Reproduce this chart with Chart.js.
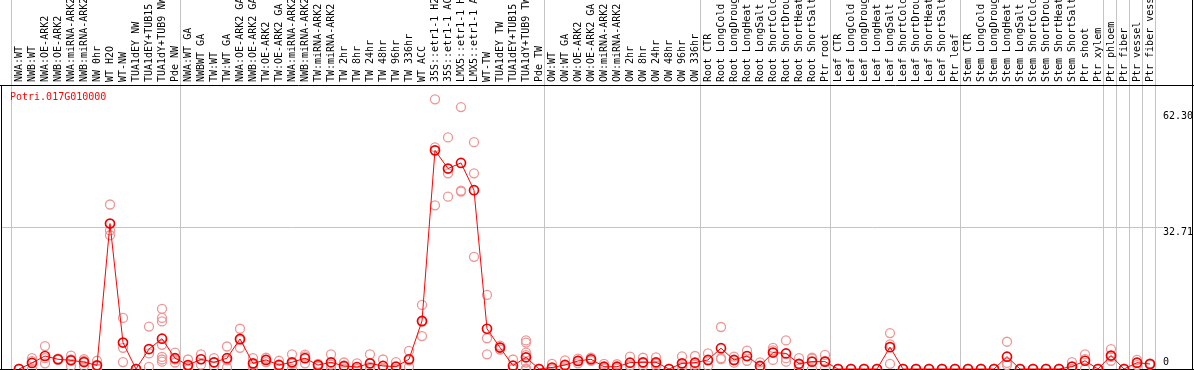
<!DOCTYPE html>
<html>
<head>
<meta charset="utf-8">
<script src="https://cdn.jsdelivr.net/npm/chart.js@4/dist/chart.umd.min.js"></script>
<style>
html,body{margin:0;padding:0;background:#fff;}
#wrap{position:relative;width:1194px;height:370px;overflow:hidden;}
#title{position:absolute;left:10px;top:91px;font:10px "DejaVu Sans Mono",monospace;color:#ff0000;line-height:12px;white-space:nowrap;}
</style>
</head>
<body>
<div id="wrap"><canvas id="c" width="1194" height="370"></canvas><div id="title"></div></div>
<script>
const geneId = 'Potri.017G010000';

const categories = [
  'NWA:WT','NWB:WT','NWA:OE-ARK2','NWB:OE-ARK2','NWA:miRNA-ARK2','NWB:miRNA-ARK2','NW 0hr','WT H2O','WT-NW',
  'TUA1dEY NW','TUA1dEY+TUB15 NW','TUA1dY+TUB9 NW','Pde NW',
  'NWA:WT GA','NWBWT GA','TW:WT','TW:WT GA','NWA:OE-ARK2 GA','NWB:OE-ARK2 GA','TW:OE-ARK2','TW:OE-ARK2 GA',
  'NWA:miRNA-ARK2 GA','NWB:miRNA-ARK2 GA','TW:miRNA-ARK2','TW:miRNA-ARK2 GA',
  'TW 2hr','TW 8hr','TW 24hr','TW 48hr','TW 96hr','TW 336hr','WT ACC',
  '35S::etr1-1 H2O','35S::etr1-1 ACC','LMX5::etr1-1 H2O','LMX5::etr1-1 ACC',
  'WT-TW','TUA1dEY TW','TUA1dEY+TUB15 TW','TUA1dY+TUB9 TW','Pde TW',
  'OW:WT','OW:WT GA','OW:OE-ARK2','OW:OE-ARK2 GA','OW:miRNA-ARK2','OW:miRNA-ARK2 GA',
  'OW 2hr','OW 8hr','OW 24hr','OW 48hr','OW 96hr','OW 336hr',
  'Root CTR','Root LongCold','Root LongDrought','Root LongHeat','Root LongSalt','Root ShortCold','Root ShortDrought','Root ShortHeat','Root ShortSalt','Ptr root',
  'Leaf CTR','Leaf LongCold','Leaf LongDrought','Leaf LongHeat','Leaf LongSalt','Leaf ShortCold','Leaf ShortDrought','Leaf ShortHeat','Leaf ShortSalt','Ptr leaf',
  'Stem CTR','Stem LongCold','Stem LongDrought','Stem LongHeat','Stem LongSalt','Stem ShortCold','Stem ShortDrought','Stem ShortHeat','Stem ShortSalt','Ptr shoot',
  'Ptr xylem','Ptr phloem','Ptr fiber','Ptr vessel','Ptr fiber vessel'
];

const meanValues = [
  0, 1.4, 3.0, 2.25, 2.0, 1.6, 0.85, 33.6, 6.1, 0, 4.6, 7.0, 2.5,
  0.9, 2.25, 1.55, 2.5, 6.95, 1.3, 2.1, 0.93, 1.55, 2.5, 0.9, 1.55, 0.7, 0.46, 1.3, 0.7, 0.55, 2.25, 11.1,
  50.5, 46.3, 47.6, 41.3, 9.3, 4.95, 0.77, 2.7, 0,
  0.35, 0.93, 1.86, 2.25, 0.53, 0.53, 1.46, 1.55, 1.55, 0, 1.3, 1.46,
  2.1, 4.8, 2.1, 3.0, 0.7, 3.8, 3.6, 1.2, 1.7, 1.7,
  0, 0, 0, 0, 5.05, 0, 0, 0, 0, 0,
  0, 0, 0, 2.85, 0, 0, 0, 0, 0.55, 1.9,
  0, 3.1, 0, 1.46, 1.16
];

const replicateValues = [
  [0,0,0],[2.5,1.8,0],[5.3,2.5,1.3],[2.4,2.2,2.1],[3.1,2.2,0.7],[2.3,1.9,0.7],[1.9,0.6,0.1],[38.0,32.0,30.9],[11.8,4.9,1.6],
  [0,0,0],[9.8,3.6,0.5],[13.9,11.8,11.0,5.6,2.8,2.2,1.7],[3.8,2.2,1.5],
  [2.2,0.5,0],[3.4,2.3,1.0],[2.5,1.5,0.6],[5.2,2.0,0.3],[9.3,6.7,4.9],[2.5,1.0,0.4],[2.6,2.1,1.6],[1.9,0.7,0.2],
  [3.4,1.2,0],[3.3,2.9,1.3],[1.2,1.0,0.5],[3.4,1.0,0.3],
  [1.5,0.5,0.1],[1.3,0.1,0],[3.4,0.5,0],[2.2,0,0],[1.6,0,0],[4.2,2.0,0.5],[14.8,10.9,7.6],
  [62.3,51.2,37.8],[53.5,45.2,39.8],[60.5,41.2,41.0],[52.4,45.2,25.9],
  [17.1,7.1,3.4],[5.4,5.0,4.5],[2.2,0.1,0],[6.6,6.1,3.8,3.2,1.5,0,0,0],[0,0,0],
  [1.2,0,0],[2.0,0.6,0.2],[2.4,1.9,1.3],[2.6,2.2,1.9],[1.2,0.3,0.1],[1.1,0.4,0.1],
  [2.85,0.8,0.7],[2.6,1.3,0.7],[2.7,1.2,0.7],[0,0,0],[2.9,0.6,0.4],[3.0,1.0,0.4],
  [3.6,2.0,0.7],[9.7,2.5,2.3],[2.85,2.0,1.45],[4.25,2.9,1.9],[1.55,0.5,0],[4.9,4.3,2.1],[6.6,2.5,1.7],[2.5,1.0,0.1],[2.6,2.4,0],[3.25,1.8,0.1],
  [0,0,0],[0,0,0],[0,0,0],[0,0,0],[8.3,5.7,1.2],[0,0,0],[0,0,0],[0,0,0],[0,0,0],[0,0,0],
  [0,0,0],[0,0,0],[0,0,0],[6.3,1.4,0.9],[0,0,0],[0,0,0],[0,0,0],[0,0,0],[1.6,0,0],[3.4,2.3,0],
  [0,0,0],[4.6,2.8,1.9],[0,0,0],[2.1,1.4,0.9],[1.3,1.2,1.0]
];

// first category index of each group (plus one past the end)
const groupStarts = [1, 14, 42, 54, 64, 74, 85, 86, 87, 88, 89];

const yTickValues = [62.30, 32.71, 0];
const yTickLabels = ['62.30', '32.71', '0'];
const yGridValues = [32.71];

// scale ranges
const X_MIN = -0.3846, X_MAX = 89.0;
const SEP_OFFSET = 0.59;
const Y_MAX = 65.6;
const YL_MIN = -1.773, YL_MAX = 70.15;

document.getElementById('title').textContent = geneId;

const meanData = meanValues.map((v, i) => ({x: i + 1, y: v}));
const repData = [];
replicateValues.forEach((arr, i) => arr.forEach(v => repData.push({x: i + 1, y: v})));

const monoFont = {family: 'DejaVu Sans Mono', size: 10};

function noPad(s) { s.paddingTop = 0; s.paddingBottom = 0; s.paddingLeft = 0; s.paddingRight = 0; }

const framePlugin = {
  id: 'frame',
  beforeDatasetsDraw(chart) {
    const {ctx, chartArea} = chart;
    ctx.save();
    ctx.strokeStyle = '#000';
    ctx.lineWidth = 1;
    ctx.beginPath();
    ctx.moveTo(0, chartArea.top + 0.5); ctx.lineTo(chart.width, chartArea.top + 0.5);
    ctx.moveTo(0, chartArea.bottom + 0.5); ctx.lineTo(chart.width, chartArea.bottom + 0.5);
    ctx.moveTo(1.5, chartArea.top); ctx.lineTo(1.5, chartArea.bottom + 1);
    ctx.moveTo(chart.width - 1.5, 0); ctx.lineTo(chart.width - 1.5, chartArea.bottom + 1);
    ctx.stroke();
    ctx.restore();
  }
};

new Chart(document.getElementById('c'), {
  type: 'line',
  data: {
    datasets: [
      {
        label: 'Mean', data: meanData, xAxisID: 'x', yAxisID: 'y',
        borderColor: '#ff0000', borderWidth: 1, tension: 0,
        pointRadius: 4.5, pointBorderWidth: 1.7, pointBorderColor: '#ee0000',
        pointBackgroundColor: 'rgba(0,0,0,0)', clip: 10
      },
      {
        label: 'Replicates', data: repData, xAxisID: 'x', yAxisID: 'y', showLine: false,
        pointRadius: 4.5, pointBorderWidth: 1.3, pointBorderColor: 'rgb(238,150,150)',
        pointBackgroundColor: 'rgba(0,0,0,0)', clip: 10
      }
    ]
  },
  options: {
    responsive: false, animation: false, devicePixelRatio: 1,
    layout: {autoPadding: false, padding: {left: 1, right: 1, top: 0, bottom: 1}},
    plugins: {legend: {display: false}, tooltip: {enabled: false}, title: {display: false}},
    scales: {
      x: {
        type: 'linear', position: 'top', min: X_MIN, max: X_MAX, bounds: 'data', weight: 2,
        grid: {display: false, drawTicks: false}, border: {display: false},
        ticks: {autoSkip: false, minRotation: 90, maxRotation: 90, padding: 3, labelOffset: 12, color: '#000', font: monoFont,
                callback: (v) => categories[v - 1] !== undefined ? categories[v - 1] : ''},
        afterBuildTicks: s => { s.ticks = categories.map((c, i) => ({value: i + 1})); },
        afterFit: s => { s.height = 85; noPad(s); }
      },
      xg: {
        type: 'linear', position: 'top', min: X_MIN, max: X_MAX, bounds: 'data', weight: 1,
        grid: {color: '#c4c4c4', lineWidth: 1, tickLength: 85, drawTicks: true}, border: {display: false},
        ticks: {display: false},
        afterBuildTicks: s => { s.ticks = groupStarts.map(g => ({value: g - SEP_OFFSET})); },
        afterFit: s => { s.height = 0; noPad(s); }
      },
      y: {
        type: 'linear', position: 'right', min: 0, max: Y_MAX, bounds: 'data', weight: 1,
        grid: {color: '#c4c4c4', lineWidth: 1, drawTicks: false}, border: {display: false},
        ticks: {display: false},
        afterBuildTicks: s => { s.ticks = yGridValues.map(v => ({value: v})); },
        afterFit: s => { s.width = 0; noPad(s); }
      },
      yl: {
        type: 'linear', position: 'right', min: YL_MIN, max: YL_MAX, bounds: 'data', weight: 2,
        grid: {display: false, drawTicks: false}, border: {display: false},
        ticks: {padding: 0, color: '#000', font: monoFont,
                callback: (v) => { const k = yTickValues.indexOf(v); return k >= 0 ? yTickLabels[k] : ''; }},
        afterBuildTicks: s => { s.ticks = yTickValues.map(v => ({value: v})); },
        afterFit: s => { s.width = 30; noPad(s); }
      }
    }
  },
  plugins: [framePlugin]
});
</script>
</body>
</html>
